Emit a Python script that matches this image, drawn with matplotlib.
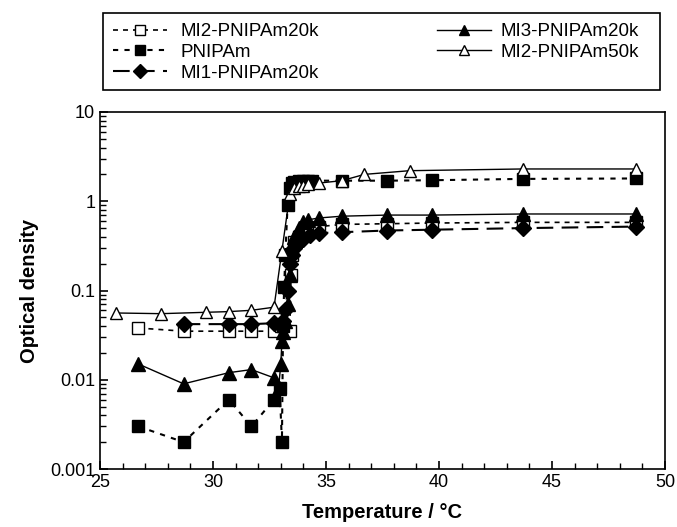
import matplotlib
matplotlib.use("Agg")
import matplotlib.pyplot as plt
from matplotlib.patches import Rectangle
from matplotlib.ticker import LogLocator, NullFormatter, MultipleLocator

plt.rcParams['font.family'] = ['Liberation Sans', 'DejaVu Sans']

# MI2-PNIPAm20k (open squares)
t_mi2_20 = [26.7, 28.7, 30.7, 31.7, 32.7, 33.0, 33.4, 33.45, 33.5, 33.6, 33.8, 34.0, 34.3, 34.7, 35.7, 37.7, 39.7, 43.7, 48.7]
od_mi2_20 = [0.038, 0.035, 0.035, 0.035, 0.035, 0.04, 0.035, 0.15, 0.25, 0.35, 0.4, 0.45, 0.5, 0.52, 0.55, 0.56, 0.57, 0.58, 0.58]

# PNIPAm (filled squares)
t_pnipam = [26.7, 28.7, 30.7, 31.7, 32.7, 32.95, 33.05, 33.1, 33.15, 33.2, 33.3, 33.4, 33.5, 33.6, 33.8, 34.0, 34.2, 34.4, 35.7, 37.7, 39.7, 43.7, 48.7]
od_pnipam = [0.003, 0.002, 0.006, 0.003, 0.006, 0.008, 0.002, 0.04, 0.11, 0.25, 0.9, 1.4, 1.6, 1.65, 1.7, 1.7, 1.7, 1.7, 1.7, 1.7, 1.72, 1.78, 1.8]

# MI1-PNIPAm20k (filled diamonds)
t_mi1_20 = [28.7, 30.7, 31.7, 32.7, 33.0, 33.1, 33.2, 33.3, 33.4, 33.5, 33.6, 33.8, 34.0, 34.3, 34.7, 35.7, 37.7, 39.7, 43.7, 48.7]
od_mi1_20 = [0.042, 0.042, 0.042, 0.043, 0.04, 0.045, 0.06, 0.1, 0.2, 0.25, 0.3, 0.35, 0.38, 0.42, 0.44, 0.45, 0.47, 0.48, 0.5, 0.52]

# MI3-PNIPAm20k (filled triangles)
t_mi3_20 = [26.7, 28.7, 30.7, 31.7, 32.7, 32.9, 33.0, 33.05, 33.1, 33.2, 33.3, 33.4, 33.5, 33.6, 33.8, 34.0, 34.2, 34.7, 35.7, 37.7, 39.7, 43.7, 48.7]
od_mi3_20 = [0.015, 0.009, 0.012, 0.013, 0.0105, 0.008, 0.015, 0.027, 0.034, 0.046, 0.07, 0.15, 0.3, 0.4, 0.5, 0.58, 0.62, 0.65, 0.68, 0.7, 0.7, 0.72, 0.72]

# MI2-PNIPAm50k (open triangles)
t_mi2_50 = [25.7, 27.7, 29.7, 30.7, 31.7, 32.7, 33.05, 33.4, 33.6, 33.8, 34.0, 34.2, 34.7, 35.7, 36.7, 38.7, 43.7, 48.7]
od_mi2_50 = [0.056, 0.055, 0.057, 0.058, 0.06, 0.065, 0.28, 1.2, 1.4, 1.5, 1.5, 1.55, 1.6, 1.7, 2.0, 2.2, 2.3, 2.3]

W, H = 677, 527
fig = plt.figure(figsize=(W / 100, H / 100), dpi=100)
ax = fig.add_axes([100 / W, 1 - 469 / H, 565 / W, 357 / H])

h1, = ax.plot(t_mi2_20, od_mi2_20, color='black', lw=1.2, dashes=(3, 3),
              marker='s', ms=8, mfc='white', mec='black', mew=1, label='MI2-PNIPAm20k')
h2, = ax.plot(t_pnipam, od_pnipam, color='black', lw=1.5, dashes=(2.5, 3),
              marker='s', ms=9, mfc='black', mec='black', label='PNIPAm')
h3, = ax.plot(t_mi1_20, od_mi1_20, color='black', lw=1.5, dashes=(8, 4),
              marker='D', ms=8, mfc='black', mec='black', label='MI1-PNIPAm20k')
h4, = ax.plot(t_mi3_20, od_mi3_20, color='black', lw=1,
              marker='^', ms=10, mfc='black', mec='black', label='MI3-PNIPAm20k')
h5, = ax.plot(t_mi2_50, od_mi2_50, color='black', lw=1,
              marker='^', ms=9, mfc='white', mec='black', mew=1, label='MI2-PNIPAm50k')

ax.set_yscale('log')
ax.set_xlim(25, 50)
ax.set_ylim(0.001, 10)
ax.xaxis.set_major_locator(MultipleLocator(5))
ax.xaxis.set_minor_locator(MultipleLocator(1))
ax.yaxis.set_minor_locator(LogLocator(base=10, subs=range(2, 10)))
ax.yaxis.set_minor_formatter(NullFormatter())
ax.set_yticks([0.001, 0.01, 0.1, 1, 10])
ax.set_yticklabels(['0.001', '0.01', '0.1', '1', '10'])
ax.tick_params(which='both', direction='in', top=False, right=False, labelsize=13, color='black')
ax.tick_params(which='major', length=6, width=1.2)
ax.tick_params(which='minor', length=4, width=1)
for sp in ax.spines.values():
    sp.set_linewidth(1.2)

ax.set_xlabel('Temperature / °C', fontsize=14.5, fontweight='bold', labelpad=9)
ax.set_ylabel('Optical density', fontsize=14.5, fontweight='bold', labelpad=8)

# legend: two columns inside a single box
fig.add_artist(Rectangle((103 / W, 1 - 90 / H), 557 / W, 77 / H, transform=fig.transFigure,
                         fill=False, lw=1.2, edgecolor='black'))
leg_kw = dict(numpoints=1, loc='upper left', fontsize=13.5, frameon=False,
              handlelength=2.9, labelspacing=0.2, borderpad=0, borderaxespad=0)
leg1 = fig.legend(handles=[h1, h2, h3], bbox_to_anchor=(113 / W, 1 - 23 / H),
                  handletextpad=0.7, **leg_kw)
leg2 = fig.legend(handles=[h4, h5], bbox_to_anchor=(437 / W, 1 - 23 / H),
                  handletextpad=0.5, **leg_kw)
for leg in (leg1, leg2):
    for h in leg.legend_handles:
        h.set_markersize(7)

fig.savefig('out.png', dpi=100)
